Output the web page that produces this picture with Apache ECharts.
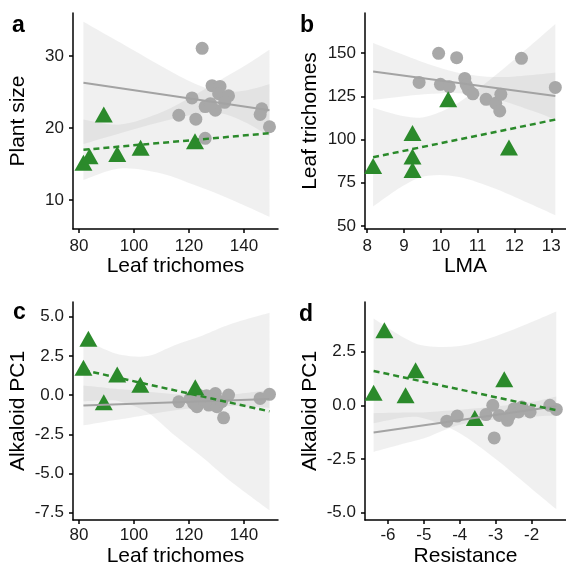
<!DOCTYPE html>
<html>
<head>
<meta charset="utf-8">
<script src="https://cdn.jsdelivr.net/npm/echarts@6.0.0/dist/echarts.min.js"></script>
<style>
html,body{margin:0;padding:0;background:#fff;}
#chart{width:566px;height:570px;}
</style>
</head>
<body>
<div id="chart"></div>
<script>
// ---------- Panel a: Plant size vs Leaf trichomes ----------
const aGrayX  = [124.8, 121.1, 116.3, 122.5, 125.9, 128.4, 131.3, 130.8, 134.4, 125.9, 129.6, 133.0, 127.8, 146.5, 145.9, 149.3];
const aGrayY  = [31.1, 24.2, 21.8, 21.25, 18.6, 25.9, 25.8, 24.8, 24.5, 23.0, 22.5, 23.6, 23.4, 22.7, 21.9, 20.2];
const aGreenX = [81.6, 83.8, 89.0, 93.9, 102.4, 122.2];
const aGreenY = [15.2, 16.1, 21.9, 16.4, 17.3, 18.2];
const aLineX = [81.6, 149.3];
const aGrayLineY = [26.3, 22.5];
const aGreenLineY = [17.0, 19.3];
const aBandX = [81.6, 95, 110, 122, 131, 140, 149.3];
const aGrayUpper  = [34.8, 31.9, 28.6, 26.2, 25.1, 25.2, 26.1];
const aGrayLower  = [17.8, 19.3, 20.9, 21.9, 22.1, 20.9, 18.9];
const aGreenUpper = [21.2, 20.5, 22.2, 24.6, 26.6, 28.6, 30.9];
const aGreenLower = [12.8, 14.4, 13.7, 12.1, 10.8, 9.3, 7.7];
const aXTicks = [80, 100, 120, 140];
const aYTicks = [10, 20, 30];

// ---------- Panel b: Leaf trichomes vs LMA ----------
const bGrayX  = [9.94, 10.43, 9.41, 9.99, 10.23, 10.65, 10.69, 10.75, 10.87, 11.23, 11.49, 11.63, 11.60, 12.19, 13.11];
const bGrayY  = [149.8, 147.3, 133.0, 131.9, 130.5, 135.3, 131.5, 129.0, 126.4, 123.2, 120.9, 126.1, 116.5, 146.9, 130.1];
const bGreenX = [8.16, 9.23, 9.23, 9.23, 10.20, 11.85];
const bGreenY = [84.7, 103.7, 90.2, 82.4, 123.2, 95.4];
const bLineX = [8.16, 13.11];
const bGrayLineY = [139.3, 125.1];
const bGreenLineY = [89.8, 111.5];
const bBandX = [8.16, 9, 9.65, 10.5, 11.5, 12.5, 13.11];
const bGrayUpper  = [155.7, 148.8, 143.7, 138.5, 136.1, 137.3, 138.7];
const bGrayLower  = [122.9, 125.0, 126.3, 126.7, 123.3, 116.5, 111.5];
const bGreenUpper = [118.3, 113.4, 113.5, 121.6, 137.4, 155.5, 166.8];
const bGreenLower = [61.3, 73.6, 79.1, 78.4, 71.4, 62.1, 56.2];
const bXTicks = [8, 9, 10, 11, 12, 13];
const bYTicks = [50, 75, 100, 125, 150];

// ---------- Panel c: Alkaloid PC1 vs Leaf trichomes ----------
const cGrayX  = [116.3, 120.5, 121.7, 123.5, 122.9, 125.3, 127.2, 129.6, 129.0, 130.2, 134.4, 132.6, 145.9, 149.3, 126.4, 131.9];
const cGrayY  = [-0.43, -0.21, -0.53, 0.0, -0.74, -0.32, -0.64, 0.1, -0.3, -0.74, 0.0, -1.45, -0.21, 0.05, -0.04, -0.42];
const cGreenX = [81.6, 83.4, 89.0, 93.9, 102.3, 122.3];
const cGreenY = [1.74, 3.6, -0.45, 1.32, 0.66, 0.5];
const cLineX = [81.6, 149.3];
const cGrayLineY = [-0.66, -0.25];
const cGreenLineY = [1.6, -1.04];
const cBandX = [81.6, 90, 95.5, 105, 115, 125, 135, 149.3];
const cGrayUpper  = [0.61, 0.46, 0.37, 0.21, 0.05, -0.03, 0.02, 0.32];
const cGrayLower  = [-1.93, -1.68, -1.53, -1.25, -0.97, -0.77, -0.70, -0.82];
const cGreenUpper = [3.6, 2.87, 2.56, 2.49, 3.2, 3.81, 4.52, 5.25];
const cGreenLower = [-0.4, -0.33, -0.44, -1.11, -2.6, -3.99, -5.48, -7.35];
const cXTicks = [80, 100, 120, 140];
const cYTicks = [-7.5, -5, -2.5, 0, 2.5, 5];

// ---------- Panel d: Alkaloid PC1 vs Resistance ----------
const dGrayX  = [-4.36, -4.07, -3.27, -3.08, -2.90, -2.67, -2.49, -2.36, -2.27, -2.04, -1.49, -1.31, -3.04, -2.60];
const dGrayY  = [-0.74, -0.5, -0.43, 0.0, -0.47, -0.70, -0.16, -0.31, -0.08, -0.31, 0.0, -0.19, -1.52, -0.45];
const dGreenX = [-6.40, -6.10, -5.51, -5.23, -3.58, -2.76];
const dGreenY = [0.59, 3.49, 0.47, 1.63, -0.59, 1.21];
const dLineX = [-6.40, -1.31];
const dGrayLineY = [-1.27, -0.04];
const dGreenLineY = [1.6, -0.23];
const dBandX = [-6.4, -5.5, -4.93, -4, -3, -2, -1.31];
const dGrayUpper  = [-0.37, -0.34, -0.32, -0.21, -0.06, 0.15, 0.41];
const dGrayLower  = [-2.17, -1.76, -1.50, -0.91, -0.66, -0.53, -0.46];
const dGreenUpper = [4.04, 3.10, 2.76, 2.76, 3.22, 3.88, 4.37];
const dGreenLower = [-0.84, -0.56, -0.64, -1.30, -2.50, -3.88, -4.83];
const dXTicks = [-6, -5, -4, -3, -2];
const dYTicks = [-5, -2.5, 0, 2.5];

const letters = ['a', 'b', 'c', 'd'];
const xTitles = ['Leaf trichomes', 'LMA', 'Leaf trichomes', 'Resistance'];
const yTitles = ['Plant size', 'Leaf trichomes', 'Alkaloid PC1', 'Alkaloid PC1'];

const FONT = 'Liberation Sans, Arial, Helvetica, sans-serif';
const GRAY = '#a8a8a8';
const GRAY_LINE = '#a3a3a3';
const GREEN = '#2b8a2b';
const BAND_FILL = 'rgba(153,153,153,0.15)';

const panels = [
  {gx: aGrayX, gy: aGrayY, tx: aGreenX, ty: aGreenY, lx: aLineX, gl: aGrayLineY, tl: aGreenLineY,
   bx: aBandX, gu: aGrayUpper, glo: aGrayLower, tu: aGreenUpper, tlo: aGreenLower,
   xt: aXTicks, yt: aYTicks, xmin: 77.8, xmax: 152.4, ymin: 6.0, ymax: 36.0, dec: 0,
   grid: {left: 73, top: 13, width: 205, height: 216}, xMargin: 9},
  {gx: bGrayX, gy: bGrayY, tx: bGreenX, ty: bGreenY, lx: bLineX, gl: bGrayLineY, tl: bGreenLineY,
   bx: bBandX, gu: bGrayUpper, glo: bGrayLower, tu: bGreenUpper, tlo: bGreenLower,
   xt: bXTicks, yt: bYTicks, xmin: 7.94, xmax: 13.40, ymin: 48.3, ymax: 173.1, dec: 0,
   grid: {left: 365, top: 13, width: 205, height: 216}, xMargin: 9},
  {gx: cGrayX, gy: cGrayY, tx: cGreenX, ty: cGreenY, lx: cLineX, gl: cGrayLineY, tl: cGreenLineY,
   bx: cBandX, gu: cGrayUpper, glo: cGrayLower, tu: cGreenUpper, tlo: cGreenLower,
   xt: cXTicks, yt: cYTicks, xmin: 77.8, xmax: 152.4, ymin: -7.97, ymax: 5.94, dec: 1,
   grid: {left: 73, top: 302, width: 205, height: 218}, xMargin: 7},
  {gx: dGrayX, gy: dGrayY, tx: dGreenX, ty: dGreenY, lx: dLineX, gl: dGrayLineY, tl: dGreenLineY,
   bx: dBandX, gu: dGrayUpper, glo: dGrayLower, tu: dGreenUpper, tlo: dGreenLower,
   xt: dXTicks, yt: dYTicks, xmin: -6.64, xmax: -1.04, ymin: -5.34, ymax: 4.81, dec: 1,
   grid: {left: 365, top: 302, width: 205, height: 218}, xMargin: 7}
];

const zip = (xs, ys) => xs.map((x, i) => [x, ys[i]]);

// Smooth (Catmull-Rom -> cubic Bezier) path through pixel points
function curveSegs(pts) {
  let d = '';
  for (let i = 0; i < pts.length - 1; i++) {
    const p0 = pts[Math.max(i - 1, 0)], p1 = pts[i], p2 = pts[i + 1], p3 = pts[Math.min(i + 2, pts.length - 1)];
    const c1x = p1[0] + (p2[0] - p0[0]) / 6, c1y = p1[1] + (p2[1] - p0[1]) / 6;
    const c2x = p2[0] - (p3[0] - p1[0]) / 6, c2y = p2[1] - (p3[1] - p1[1]) / 6;
    d += ' C' + c1x + ',' + c1y + ' ' + c2x + ',' + c2y + ' ' + p2[0] + ',' + p2[1];
  }
  return d;
}

const grids = [], xAxes = [], yAxes = [], series = [];
const axisLine = {show: true, onZero: false, lineStyle: {color: '#000', width: 1.5}};
const axisTickBase = {show: true, length: 4, inside: false, lineStyle: {color: '#000', width: 1.5}};

panels.forEach((p, i) => {
  grids.push(Object.assign({containLabel: false}, p.grid));
  xAxes.push({
    type: 'value', gridIndex: i, min: p.xmin, max: p.xmax,
    axisLine: axisLine,
    axisTick: Object.assign({customValues: p.xt}, axisTickBase),
    axisLabel: {customValues: p.xt, fontSize: 17, color: '#1a1a1a', fontFamily: FONT, margin: p.xMargin},
    splitLine: {show: false},
    name: xTitles[i], nameLocation: 'middle', nameGap: 26,
    nameTextStyle: {fontSize: 21, color: '#000', fontFamily: FONT}
  });
  yAxes.push({
    type: 'value', gridIndex: i, min: p.ymin, max: p.ymax,
    axisLine: axisLine,
    axisTick: Object.assign({customValues: p.yt}, axisTickBase),
    axisLabel: {customValues: p.yt, fontSize: 17, color: '#1a1a1a', fontFamily: FONT, margin: 9,
      formatter: (v) => Number(v).toFixed(p.dec)},
    splitLine: {show: false},
    name: yTitles[i], nameLocation: 'middle', nameGap: 44,
    nameTextStyle: {fontSize: 21, color: '#000', fontFamily: FONT}
  });

  const ribbon = (upper, lower) => {
    series.push({
      type: 'custom', xAxisIndex: i, yAxisIndex: i, silent: true, clip: true,
      data: p.bx.map((x, k) => [x, upper[k], lower[k]]),
      encode: {x: 0, y: [1, 2]},
      renderItem: function (params, api) {
        if (params.dataIndex !== 0) return null;
        const up = p.bx.map((x, k) => api.coord([x, upper[k]]));
        const lo = p.bx.map((x, k) => api.coord([x, lower[k]])).reverse();
        let d = 'M' + up[0][0] + ',' + up[0][1] + curveSegs(up);
        d += ' L' + lo[0][0] + ',' + lo[0][1] + curveSegs(lo) + ' Z';
        return {type: 'path', shape: {pathData: d}, style: {fill: BAND_FILL, stroke: null}};
      }
    });
  };
  ribbon(p.gu, p.glo);
  ribbon(p.tu, p.tlo);

  series.push({
    type: 'scatter', xAxisIndex: i, yAxisIndex: i, symbol: 'circle', symbolSize: 13,
    itemStyle: {color: GRAY, opacity: 1}, data: zip(p.gx, p.gy)
  });
  series.push({
    type: 'scatter', xAxisIndex: i, yAxisIndex: i, symbol: 'triangle', symbolSize: [18, 16],
    itemStyle: {color: GREEN, opacity: 1}, data: zip(p.tx, p.ty)
  });
  series.push({
    type: 'line', xAxisIndex: i, yAxisIndex: i, symbol: 'none',
    lineStyle: {color: GRAY_LINE, width: 2}, data: zip(p.lx, p.gl)
  });
  series.push({
    type: 'line', xAxisIndex: i, yAxisIndex: i, symbol: 'none',
    lineStyle: {color: GREEN, width: 2.5, type: [6, 4]}, data: zip(p.lx, p.tl)
  });
});

const letterPos = [[12, 26], [300, 26], [13, 313], [299, 315]];
const graphics = letters.map((t, i) => ({
  type: 'text', left: letterPos[i][0], top: letterPos[i][1] - 12, silent: true,
  style: {text: t, font: 'bold 23px ' + FONT, fill: '#000'}
}));

const chart = echarts.init(document.getElementById('chart'), null, {renderer: 'canvas'});
chart.setOption({
  animation: false,
  backgroundColor: '#ffffff',
  textStyle: {fontFamily: FONT},
  grid: grids,
  xAxis: xAxes,
  yAxis: yAxes,
  series: series,
  graphic: graphics
});
</script>
</body>
</html>
